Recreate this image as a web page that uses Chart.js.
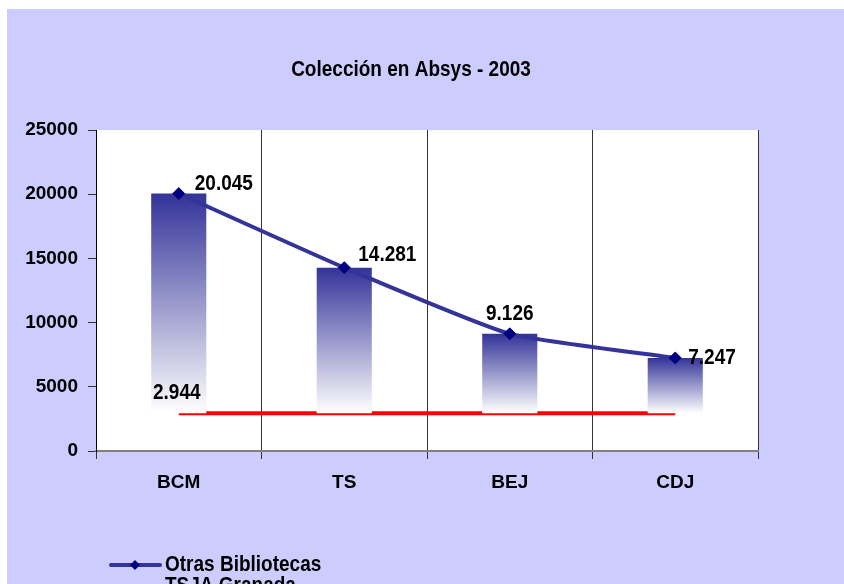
<!DOCTYPE html>
<html>
<head>
<meta charset="utf-8">
<script src="https://cdn.jsdelivr.net/npm/chart.js@4"></script>
<style>
html, body { margin: 0; padding: 0; background: #fff; }
#wrap { position: absolute; left: 7px; top: 9px; width: 837px; height: 575px; background: #ccccff; overflow: hidden; }
</style>
</head>
<body>
<div id="wrap"><canvas id="absysChart" width="837" height="575"></canvas></div>
<script>
// DATA
const categories = ['BCM', 'TS', 'BEJ', 'CDJ'];
const otras = [20045, 14281, 9126, 7247];
const tsja = [2944, 2944, 2944, 2944];
const yTicks = [0, 5000, 10000, 15000, 20000, 25000];

const FONT = "'Liberation Sans', Arial, sans-serif";
const fmt = v => String(v).replace(/\B(?=(\d{3})+(?!\d))/g, '.');

// white plot area
const plotBg = {
  id: 'plotBg',
  beforeDraw(chart) {
    const { ctx, chartArea: a } = chart;
    ctx.save();
    ctx.fillStyle = '#fff';
    ctx.fillRect(a.left, a.top, a.right - a.left, a.bottom - a.top);
    ctx.restore();
  }
};

// value labels next to the points (slightly tall text, like the original)
function tallText(ctx, text, x, y) {
  ctx.save();
  ctx.translate(x, y);
  ctx.scale(1, 1.15);
  ctx.fillText(text, 0, 0);
  ctx.restore();
}

const labelOffsets = [[16, -10, 'left'], [14, -13, 'left'], [0, -20, 'center'], [13, 0, 'left']];
const valueLabels = {
  id: 'valueLabels',
  afterDatasetsDraw(chart) {
    const ctx = chart.ctx;
    ctx.save();
    ctx.font = 'bold 19px ' + FONT;
    ctx.fillStyle = '#000';
    ctx.textBaseline = 'middle';
    chart.getDatasetMeta(0).data.forEach((pt, i) => {
      const [dx, dy, al] = labelOffsets[i];
      ctx.textAlign = al;
      tallText(ctx, fmt(otras[i]), pt.x + dx, pt.y + dy);
    });
    const first = chart.getDatasetMeta(2).data[0];
    ctx.textAlign = 'center';
    tallText(ctx, fmt(tsja[0]), first.x - 2, first.y - 20);
    ctx.restore();
  }
};

// title + legend
const titleLegend = {
  id: 'titleLegend',
  afterDraw(chart) {
    const ctx = chart.ctx;
    ctx.save();
    ctx.fillStyle = '#000';
    ctx.font = 'bold 19px ' + FONT;
    ctx.textAlign = 'center';
    ctx.textBaseline = 'middle';
    tallText(ctx, 'Colección en Absys - 2003', 404, 61);

    const items = [
      { text: 'Otras Bibliotecas', color: '#333399', marker: true },
      { text: 'TSJA Granada', color: '#ff0000', marker: false }
    ];
    items.forEach((it, i) => {
      const y = 556 + i * 21;
      ctx.strokeStyle = it.color;
      ctx.lineWidth = 4;
      ctx.lineCap = 'round';
      ctx.beginPath();
      ctx.moveTo(104, y);
      ctx.lineTo(153, y);
      ctx.stroke();
      if (it.marker) {
        ctx.fillStyle = '#000080';
        ctx.beginPath();
        ctx.moveTo(128, y - 5);
        ctx.lineTo(133, y);
        ctx.lineTo(128, y + 5);
        ctx.lineTo(123, y);
        ctx.closePath();
        ctx.fill();
      }
      ctx.fillStyle = '#000';
      ctx.textAlign = 'left';
      tallText(ctx, it.text, 158, y);
    });
    ctx.restore();
  }
};

function barGradient(c) {
  const chart = c.chart;
  const y = chart.scales.y;
  if (!chart.chartArea || !y) return '#333399';
  const i = c.dataIndex;
  const g = chart.ctx.createLinearGradient(0, y.getPixelForValue(otras[i]), 0, y.getPixelForValue(tsja[i]));
  g.addColorStop(0, '#333399');
  g.addColorStop(1, '#ffffff');
  return g;
}

new Chart(document.getElementById('absysChart'), {
  data: {
    labels: categories,
    datasets: [{
      type: 'line',
      label: 'Otras Bibliotecas',
      data: otras,
      borderColor: '#333399',
      borderWidth: 4,
      tension: 0.15,
      pointStyle: 'rectRot',
      pointRadius: 6,
      pointBackgroundColor: '#000080',
      pointBorderColor: '#000080',
      pointBorderWidth: 1,
      order: 0
    }, {
      type: 'bar',
      label: 'barras',
      data: otras.map((v, i) => [tsja[i], v]),
      backgroundColor: barGradient,
      borderWidth: 0,
      barPercentage: 0.333,
      categoryPercentage: 1,
      order: 1
    }, {
      type: 'line',
      label: 'TSJA Granada',
      data: tsja,
      borderColor: '#ff0000',
      borderWidth: 4,
      pointRadius: 0,
      order: 2
    }]
  },
  options: {
    responsive: false,
    animation: false,
    events: [],
    layout: { padding: { left: 0, top: 121, right: 86, bottom: 0 } },
    plugins: { legend: { display: false }, tooltip: { enabled: false } },
    scales: {
      x: {
        offset: true,
        grid: { display: true, offset: true, color: '#333', lineWidth: 1, tickLength: 8, drawOnChartArea: true },
        border: { color: '#808080', width: 2 },
        ticks: { color: '#000', font: { family: FONT, size: 19, weight: 'bold' }, padding: 12 },
        afterFit(s) { s.height = 133; }
      },
      y: {
        min: yTicks[0],
        max: yTicks[yTicks.length - 1],
        ticks: {
          stepSize: yTicks[1] - yTicks[0],
          callback: v => String(v),
          color: '#000',
          padding: 10,
          font: { family: FONT, size: 19, weight: 'bold' }
        },
        grid: { drawOnChartArea: false, color: '#333', tickLength: 8 },
        border: { color: '#000', width: 1 },
        afterFit(s) { s.width = 89; }
      }
    }
  },
  plugins: [plotBg, valueLabels, titleLegend]
});
</script>
</body>
</html>
